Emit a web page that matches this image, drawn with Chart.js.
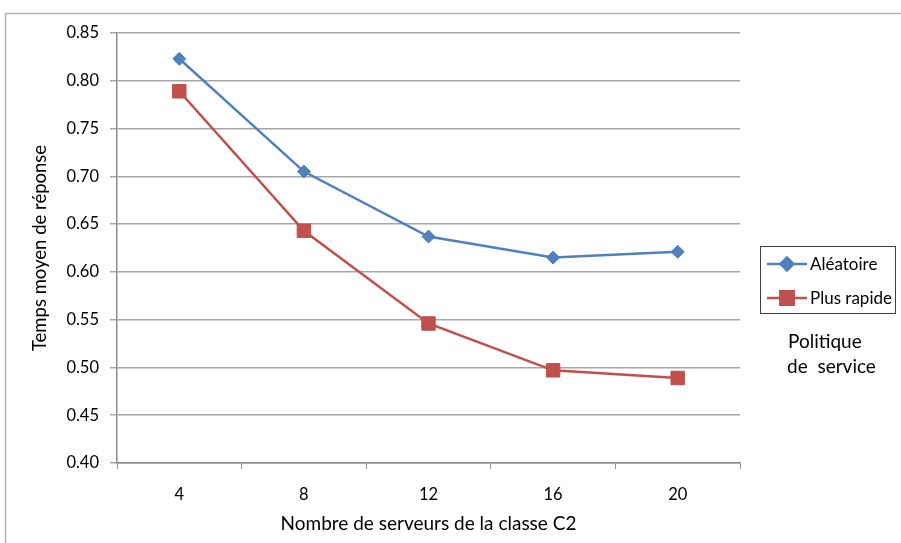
<!DOCTYPE html>
<html>
<head>
<meta charset="utf-8">
<script src="https://cdn.jsdelivr.net/npm/chart.js@4/dist/chart.umd.min.js"></script>
<style>
  html, body { margin: 0; padding: 0; background: #ffffff; }
  #wrap { width: 901px; height: 543px; position: relative; }
</style>
</head>
<body>
<div id="wrap"><canvas id="c" width="901" height="543"></canvas></div>
<script>
// Number of class C2 servers
const categories = ['4', '8', '12', '16', '20'];
// Mean response time per service policy
const aleatoire = [0.823, 0.705, 0.637, 0.615, 0.621];
const plusRapide = [0.789, 0.643, 0.546, 0.497, 0.489];
const seriesNames = ['Aléatoire', 'Plus rapide'];
// Y axis range and tick step
const yMin = 0.40;
const yMax = 0.85;
const yStep = 0.05;

const FONT = 'Lato, "Open Sans", sans-serif';
const BLUE = '#4F81BD';
const RED = '#C0504D';
const GRID = '#a6a6a6';
const AXIS = '#8c8c8c';

// Outer frame, boxed legend and the legend caption
const decorations = {
  id: 'decorations',
  beforeDraw(chart) {
    const ctx = chart.ctx;
    ctx.save();
    ctx.strokeStyle = '#b4b4b4';
    ctx.lineWidth = 1.5;
    ctx.beginPath();
    ctx.moveTo(5.5, 543);
    ctx.lineTo(5.5, 13.5);
    ctx.lineTo(901, 13.5);
    ctx.stroke();
    ctx.restore();
  },
  afterDraw(chart) {
    const ctx = chart.ctx;
    ctx.save();
    // legend box
    ctx.strokeStyle = '#404040';
    ctx.lineWidth = 1;
    ctx.strokeRect(760.5, 246.5, 135, 67);
    const rows = [264, 298];
    chart.data.datasets.forEach((ds, i) => {
      const y = rows[i];
      ctx.strokeStyle = ds.borderColor;
      ctx.lineWidth = ds.borderWidth;
      ctx.beginPath();
      ctx.moveTo(767, y);
      ctx.lineTo(807, y);
      ctx.stroke();
      Chart.helpers.drawPoint(ctx, {
        pointStyle: ds.pointStyle,
        radius: ds.pointRadius,
        rotation: 0,
        borderWidth: 1
      }, 787, y);
      ctx.fillStyle = ds.backgroundColor;
      ctx.strokeStyle = ds.borderColor;
      ctx.fill();
      ctx.fillStyle = '#000000';
      ctx.font = '17px ' + FONT;
      ctx.textAlign = 'left';
      ctx.textBaseline = 'middle';
      ctx.fillText(ds.label, 810, y + 1);
    });
    // caption under the legend
    ctx.fillStyle = '#000000';
    ctx.font = '19px ' + FONT;
    ctx.textAlign = 'left';
    ctx.textBaseline = 'middle';
    ctx.fillText('Politique', 788, 342);
    ctx.fillText('de  service', 787, 367);
    ctx.restore();
  }
};

new Chart(document.getElementById('c'), {
  type: 'line',
  data: {
    labels: categories,
    datasets: [
      {
        label: seriesNames[0],
        data: aleatoire,
        borderColor: BLUE,
        backgroundColor: BLUE,
        borderWidth: 2.5,
        pointStyle: 'rectRot',
        pointRadius: 6.5,
        pointBorderWidth: 1,
        tension: 0
      },
      {
        label: seriesNames[1],
        data: plusRapide,
        borderColor: RED,
        backgroundColor: RED,
        borderWidth: 2.5,
        pointStyle: 'rect',
        pointRadius: 9.5,
        pointBorderWidth: 1,
        tension: 0
      }
    ]
  },
  options: {
    responsive: false,
    animation: false,
    devicePixelRatio: 1,
    layout: { padding: { top: 33, right: 161, left: 0, bottom: 0 } },
    plugins: {
      legend: { display: false },
      tooltip: { enabled: false }
    },
    scales: {
      x: {
        type: 'category',
        offset: true,
        grid: { offset: true, drawOnChartArea: false, drawTicks: true, tickLength: 6, color: AXIS, lineWidth: 1 },
        border: { color: AXIS, width: 1.5 },
        ticks: { color: '#000000', font: { family: FONT, size: 16.5 }, padding: 16 },
        title: {
          display: true,
          text: 'Nombre de serveurs de la classe C2',
          color: '#000000',
          font: { family: FONT, size: 19 },
          padding: { top: 0, bottom: 7.5 }
        },
        afterFit(scale) { scale.height = 80; }
      },
      y: {
        min: yMin,
        max: yMax,
        ticks: {
          stepSize: yStep,
          color: '#000000',
          font: { family: FONT, size: 16.5 },
          padding: 11,
          callback: (v) => Number(v).toFixed(2)
        },
        grid: { color: GRID, lineWidth: 1.5, tickLength: 7, drawTicks: true },
        border: { color: AXIS, width: 1.5 },
        title: {
          display: true,
          text: 'Temps moyen de réponse',
          color: '#000000',
          font: { family: FONT, size: 18.5 },
          padding: { top: 28.5, bottom: 0 }
        },
        afterFit(scale) { scale.width = 117; }
      }
    }
  },
  plugins: [decorations]
});
</script>
</body>
</html>
